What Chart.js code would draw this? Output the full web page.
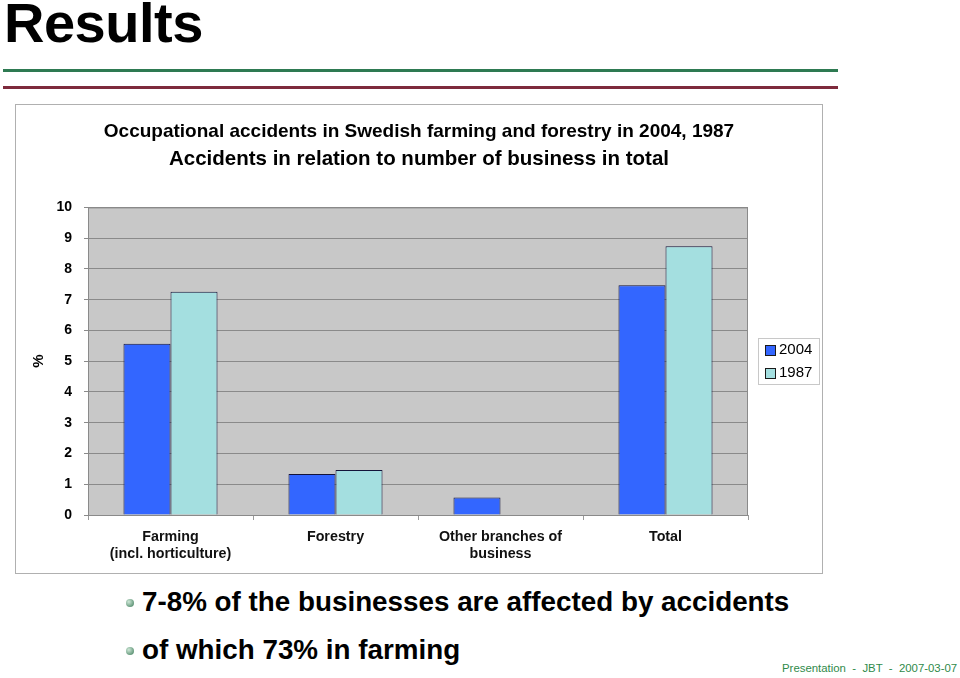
<!DOCTYPE html>
<html>
<head>
<meta charset="utf-8">
<script src="https://cdn.jsdelivr.net/npm/chart.js@4/dist/chart.umd.min.js"></script>
<style>
  body { margin: 0; width: 960px; height: 678px; background: #fff; position: relative; overflow: hidden; font-family: "Liberation Sans", Arial, sans-serif; }
  .heading { position: absolute; left: 4px; top: -10px; font-size: 56px; font-weight: bold; color: #000; letter-spacing: -0.5px; }
  .rule { position: absolute; left: 3px; width: 835px; }
  .rule.green { top: 69px; height: 3px; background: #2e7a52; }
  .rule.red { top: 86px; height: 3px; background: #7e2a3c; }
  .box { position: absolute; left: 15px; top: 104px; width: 806px; height: 468px; border: 1px solid #b0b0b0; background: #fff; }
  .box canvas { position: absolute; left: 0; top: 0; }
  .bullet { position: absolute; left: 142px; font-size: 27.8px; font-weight: bold; color: #000; white-space: nowrap; }
  .bullet::before { content: ""; position: absolute; left: -16px; top: 13px; width: 8px; height: 8px; border-radius: 50%; background: radial-gradient(circle at 35% 35%, #cfe8d8, #3c7a58); }
  .footer { position: absolute; left: 782px; top: 662px; font-size: 11.4px; color: #2f8a4a; white-space: pre; }
</style>
</head>
<body>
<div class="heading">Results</div>
<div class="rule green"></div>
<div class="rule red"></div>
<div class="box"><canvas id="chart" width="806" height="468"></canvas></div>
<div class="bullet" style="top:586px">7-8% of the businesses are affected by accidents</div>
<div class="bullet" style="top:634px">of which 73% in farming</div>
<div class="footer">Presentation  -  JBT  -  2007-03-07</div>

<script>
// data
const categories = [['Farming', '(incl. horticulture)'], 'Forestry', ['Other branches of', 'business'], 'Total'];
const values2004 = [5.57, 1.33, 0.57, 7.47];
const values1987 = [7.26, 1.46, null, 8.74];
const seriesNames = ['2004', '1987'];
const yTicks = [0, 1, 2, 3, 4, 5, 6, 7, 8, 9, 10];

const FONT = '"Liberation Sans", Arial, sans-serif';

// gray plot background + frame
const plotBackground = {
    id: 'plotBackground',
    beforeDraw(chart) {
        const a = chart.chartArea;
        const ctx = chart.ctx;
        ctx.save();
        ctx.fillStyle = '#c8c8c8';
        ctx.fillRect(a.left, a.top, a.right - a.left, a.bottom - a.top);
        ctx.restore();
    },
    afterDatasetsDraw(chart) {
        const a = chart.chartArea;
        const ctx = chart.ctx;
        ctx.save();
        ctx.strokeStyle = '#8a8a8a';
        ctx.lineWidth = 1;
        ctx.strokeRect(a.left + 0.5, a.top + 0.5, a.right - a.left - 1, a.bottom - a.top);
        ctx.restore();
    }
};

// legend drawn in a framed box to the right of the plot
const boxedLegend = {
    id: 'boxedLegend',
    afterDraw(chart) {
        const ctx = chart.ctx;
        const a = chart.chartArea;
        const x = a.right + 10, w = 61, h = 46;
        const y = Math.round((a.top + a.bottom) / 2 - h / 2);
        ctx.save();
        ctx.fillStyle = '#fff';
        ctx.fillRect(x, y, w, h);
        ctx.strokeStyle = '#c8c8c8';
        ctx.strokeRect(x + 0.5, y + 0.5, w, h);
        ctx.font = '15px ' + FONT;
        ctx.textBaseline = 'middle';
        chart.data.datasets.forEach(function(ds, i) {
            const cy = y + 12 + i * 23;
            ctx.fillStyle = ds.backgroundColor;
            ctx.fillRect(x + 7, cy - 5, 10, 10);
            ctx.strokeStyle = '#1a1a1a';
            ctx.strokeRect(x + 7.5, cy - 4.5, 10, 10);
            ctx.fillStyle = '#000';
            ctx.fillText(ds.label, x + 21, cy);
        });
        ctx.restore();
    }
};

new Chart(document.getElementById('chart'), {
    type: 'bar',
    data: {
        labels: categories,
        datasets: [
            { label: seriesNames[0], data: values2004, backgroundColor: '#3366ff', borderColor: '#14143a', borderWidth: 1 },
            { label: seriesNames[1], data: values1987, backgroundColor: '#a4dfe0', borderColor: '#14143a', borderWidth: 1 }
        ]
    },
    options: {
        responsive: false,
        animation: false,
        layout: { padding: 0 },
        categoryPercentage: 0.57,
        barPercentage: 1.0,
        plugins: {
            legend: { display: false },
            tooltip: { enabled: false },
            title: {
                display: true,
                text: 'Occupational accidents in Swedish farming and forestry in 2004, 1987',
                color: '#000',
                font: { family: FONT, size: 19, weight: 'bold' },
                padding: { top: 15, bottom: 4 }
            },
            subtitle: {
                display: true,
                text: 'Accidents in relation to number of business in total',
                color: '#000',
                font: { family: FONT, size: 20.5, weight: 'bold' },
                padding: { top: 0, bottom: 36 }
            }
        },
        scales: {
            x: {
                offset: true,
                grid: { display: true, offset: true, drawOnChartArea: false, color: '#9a9a9a', tickLength: 5 },
                border: { display: false },
                ticks: { color: '#111', font: { family: FONT, size: 14.3, weight: 'bold', lineHeight: 1.22 }, padding: 8, maxRotation: 0 },
                afterFit(scale) { scale.height = 58; }
            },
            y: {
                min: 0,
                max: 10,
                afterBuildTicks(scale) { scale.ticks = yTicks.map(v => ({ value: v })); },
                grid: { color: '#8a8a8a', tickLength: 4 },
                border: { display: false },
                ticks: { color: '#000', font: { family: FONT, size: 14, weight: 'bold' }, padding: 12 },
                title: { display: true, text: '%', color: '#000', font: { family: FONT, size: 15, weight: 'bold' }, padding: { top: 14, bottom: 0 } },
                afterFit(scale) { scale.width = 72; }
            },
            // empty right-hand axis that only reserves room for the legend box
            legendSpace: {
                type: 'linear',
                position: 'right',
                display: true,
                grid: { display: false },
                border: { display: false },
                ticks: { display: false },
                afterFit(scale) { scale.width = 74; }
            }
        }
    },
    plugins: [plotBackground, boxedLegend]
});
</script>
</body>
</html>
